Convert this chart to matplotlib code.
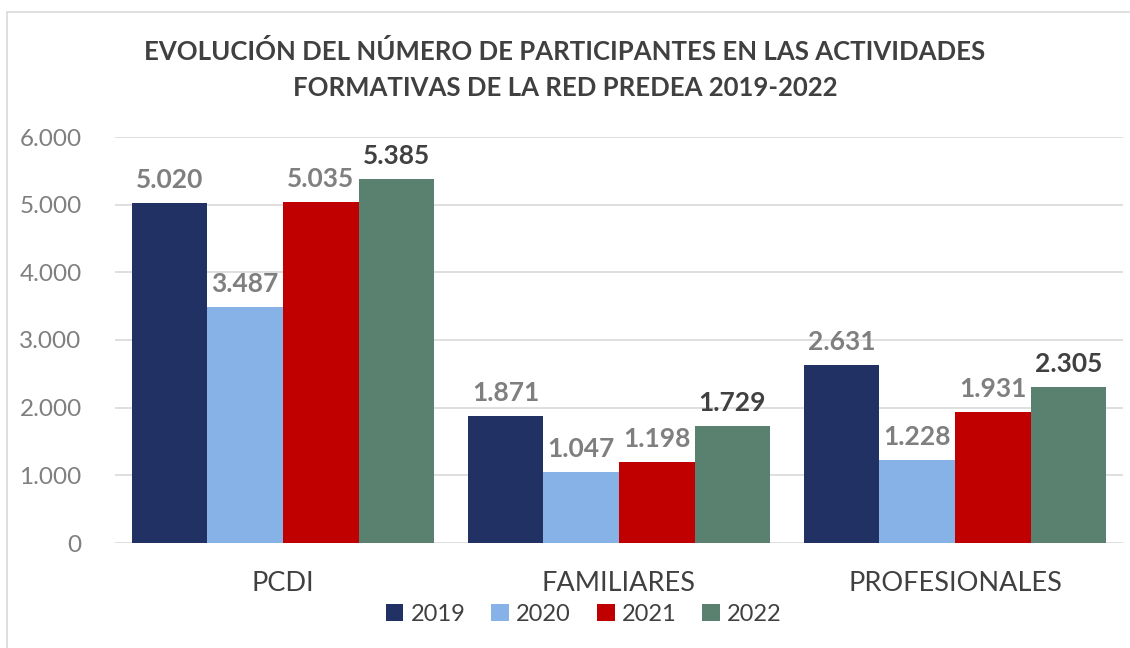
import numpy as np
import matplotlib.pyplot as plt
from matplotlib.patches import Rectangle
from matplotlib.ticker import FuncFormatter

# datos
categorias = ['PCDI', 'FAMILIARES', 'PROFESIONALES']
anios = ['2019', '2020', '2021', '2022']
v2019 = [5020, 1871, 2631]
v2020 = [3487, 1047, 1228]
v2021 = [5035, 1198, 1931]
v2022 = [5385, 1729, 2305]
series = [v2019, v2020, v2021, v2022]
colores = ['#223164', '#86B2E8', '#C00000', '#5A8170']

plt.rcParams['font.family'] = ['Lato', 'DejaVu Sans']

fig = plt.figure(figsize=(11.3, 6.48), dpi=100)
ax = fig.add_axes([115/1130, 1 - 543/648, 1008/1130, 406/648])

x = np.arange(len(categorias))
ancho = 0.9 / 4
for i, (vals, col) in enumerate(zip(series, colores)):
    pos = x - 0.45 + ancho * (i + 0.5)
    bars = ax.bar(pos, vals, width=ancho, color=col, label=anios[i], zorder=3)
    for b, v in zip(bars, vals):
        txt = f'{v:,}'.replace(',', '.')
        ax.annotate(txt, (b.get_x() + b.get_width() / 2, v), xytext=(0, 8),
                    textcoords='offset points', ha='center', va='bottom',
                    fontsize=19, fontweight='bold',
                    color='#404040' if i == 3 else '#7F7F7F')

ax.set_xlim(-0.5, 2.5)
ax.set_ylim(0, 6000)
ax.set_yticks(range(0, 6001, 1000))
ax.yaxis.set_major_formatter(FuncFormatter(lambda v, p: f'{int(v):,}'.replace(',', '.')))
ax.grid(axis='y', color='#D9D9D9', linewidth=1.2, zorder=0)
for s in ax.spines.values():
    s.set_visible(False)
ax.tick_params(axis='both', length=0)
ax.tick_params(axis='y', labelsize=17.5, labelcolor='#7F7F7F', pad=24)
ax.set_xticks(x)
ax.set_xticklabels(categorias, fontsize=19.5, color='#404040')
ax.tick_params(axis='x', pad=20)

fig.text(0.5, 1 - 52/648, 'EVOLUCIÓN DEL NÚMERO DE PARTICIPANTES EN LAS ACTIVIDADES',
         ha='center', va='center', fontsize=18.5, fontweight='bold', color='#404040')
fig.text(0.5, 1 - 88/648, 'FORMATIVAS DE LA RED PREDEA 2019-2022',
         ha='center', va='center', fontsize=18.5, fontweight='bold', color='#404040')

ax.legend(loc='center', bbox_to_anchor=(0.465, -0.175), ncol=4, frameon=False,
          fontsize=17, labelcolor='#404040', handlelength=0.75, handleheight=0.75,
          handletextpad=0.3, columnspacing=1.1)

# marco del gráfico
fig.patches.append(Rectangle((7/1130, -0.01), 1.1, 1 - 12/648 + 0.01,
                             transform=fig.transFigure, fill=False,
                             edgecolor='#D9D9D9', linewidth=1.2))

fig.savefig('out.png', dpi=100)
